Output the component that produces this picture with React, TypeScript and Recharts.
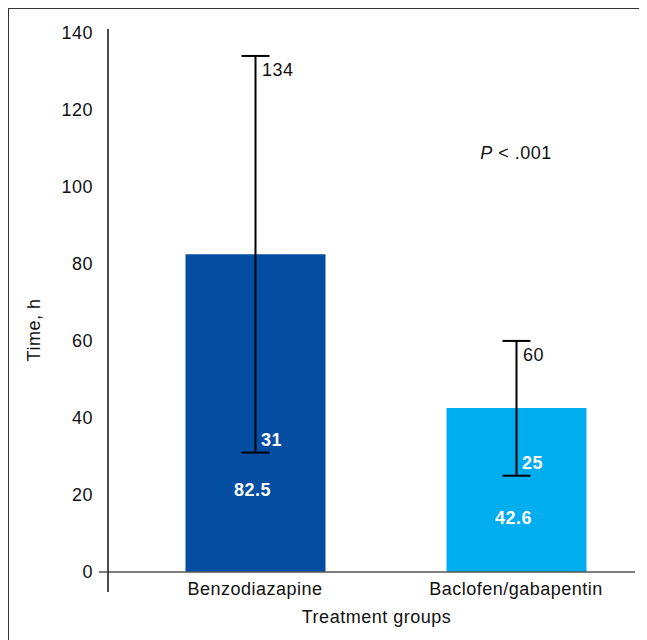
import React from 'react';
import {
  BarChart,
  Bar,
  XAxis,
  YAxis,
  Cell,
  ErrorBar,
  LabelList,
  ReferenceLine,
  ReferenceDot,
} from 'recharts';

const categories = ['Benzodiazapine', 'Baclofen/gabapentin'];
const meanHours = [82.5, 42.6];
const lowerHours = [31, 25];
const upperHours = [134, 60];
const yTicks = [0, 20, 40, 60, 80, 100, 120, 140];
const pValueText = '.001';
const pValueLevel = 109;

const barColors = ['#034EA2', '#00ADEF'];
const FONT = '"Liberation Sans", Arial, Helvetica, sans-serif';
const FS = 18;
const LS = 0.5;
const valueLabelLift = [82, 54];

const data = categories.map((name, i) => ({
  name,
  value: meanHours[i],
  err: [meanHours[i] - lowerHours[i], upperHours[i] - meanHours[i]],
}));

const vbOf = (p: any) => p.viewBox || { x: p.x, y: p.y, width: p.width, height: p.height };

const YTick = (p: any) => {
  const { x, y, payload } = p;
  return (
    <g>
      {payload.value === 0 ? (
        <line x1={x - 9} y1={y} x2={x} y2={y} stroke="#555" strokeWidth={1.5} />
      ) : null}
      <text x={x - 15} y={y + 6.5} textAnchor="end" fontFamily={FONT} fontSize={FS} letterSpacing={LS} fill="#111">
        {payload.value}
      </text>
    </g>
  );
};

const XTick = (p: any) => {
  const { x, y, payload } = p;
  return (
    <text x={x} y={y + 3} textAnchor="middle" fontFamily={FONT} fontSize={FS} letterSpacing={LS} fill="#111">
      {payload.value}
    </text>
  );
};

const ValueLabel = (p: any) => {
  const vb = vbOf(p);
  const idx = p.index ?? 0;
  return (
    <text
      x={vb.x + vb.width / 2 - 3}
      y={vb.y + vb.height - valueLabelLift[idx] + 6.5}
      textAnchor="middle"
      fontFamily={FONT}
      fontSize={FS}
      fontWeight="bold"
      letterSpacing={LS}
      fill="#fff"
    >
      {p.value}
    </text>
  );
};

export default function App() {
  return (
    <div
      style={{
        borderTop: '1px solid #333',
        borderLeft: '1px solid #333',
        width: 638,
        height: 631,
        background: '#fff',
      }}
    >
      <style>{'html,body{overflow:hidden;}'}</style>
      <BarChart
        width={638}
        height={631}
        data={data}
        margin={{ top: 20, right: 12, left: 0, bottom: 18 }}
      >
        <XAxis
          dataKey="name"
          type="category"
          height={30}
          axisLine={false}
          tickLine={false}
          tickSize={0}
          tickMargin={0}
          padding={{ left: 16.5, right: -11.5 }}
          tick={XTick}
          interval={0}
          label={{
            content: (p: any) => {
              const vb = vbOf(p);
              return (
                <text
                  x={vb.x + vb.width / 2 + 5}
                  y={vb.y + 31}
                  textAnchor="middle"
                  fontFamily={FONT}
                  fontSize={FS}
                  letterSpacing={LS}
                  fill="#111"
                >
                  Treatment groups
                </text>
              );
            },
          }}
        />
        <YAxis
          type="number"
          width={99}
          domain={[-5.2, 141]}
          ticks={yTicks}
          interval={0}
          allowDataOverflow
          axisLine={{ stroke: '#111', strokeWidth: 1.5 }}
          tickLine={false}
          tickSize={0}
          tickMargin={0}
          tick={YTick}
          label={{
            content: (p: any) => {
              const vb = vbOf(p);
              const cx = vb.x + 31;
              const cy = vb.y + vb.height / 2 + 19.5;
              return (
                <text
                  x={cx}
                  y={cy}
                  transform={`rotate(-90 ${cx} ${cy})`}
                  textAnchor="middle"
                  fontFamily={FONT}
                  fontSize={FS}
                  letterSpacing={LS}
                  fill="#111"
                >
                  Time, h
                </text>
              );
            },
          }}
        />
        <Bar dataKey="value" barSize={140} isAnimationActive={false}>
          {data.map((d, i) => (
            <Cell key={d.name} fill={barColors[i]} />
          ))}
          <ErrorBar dataKey="err" direction="y" width={14} stroke="#000" strokeWidth={2} isAnimationActive={false} />
          <LabelList dataKey="value" content={ValueLabel} />
        </Bar>
        <ReferenceLine y={0} stroke="#555" strokeWidth={1.5} ifOverflow="visible" />
        {categories.map((c, i) => (
          <ReferenceDot
            key={'hi' + c}
            x={c}
            y={upperHours[i]}
            r={0}
            fill="none"
            stroke="none"
            label={{
              content: (p: any) => {
                const vb = vbOf(p);
                return (
                  <text x={vb.x + 7} y={vb.y + 20} fontFamily={FONT} fontSize={FS} letterSpacing={LS} fill="#111">
                    {upperHours[i]}
                  </text>
                );
              },
            }}
          />
        ))}
        {categories.map((c, i) => (
          <ReferenceDot
            key={'lo' + c}
            x={c}
            y={lowerHours[i]}
            r={0}
            fill="none"
            stroke="none"
            label={{
              content: (p: any) => {
                const vb = vbOf(p);
                return (
                  <text
                    x={vb.x + 6}
                    y={vb.y - 7}
                    fontFamily={FONT}
                    fontSize={FS}
                    fontWeight="bold"
                    letterSpacing={LS}
                    fill="#fff"
                  >
                    {lowerHours[i]}
                  </text>
                );
              },
            }}
          />
        ))}
        <ReferenceDot
          x={categories[1]}
          y={pValueLevel}
          r={0}
          fill="none"
          stroke="none"
          label={{
            content: (p: any) => {
              const vb = vbOf(p);
              return (
                <text x={vb.x} y={vb.y + 6.5} textAnchor="middle" fontFamily={FONT} fontSize={FS} letterSpacing={LS} fill="#111">
                  <tspan fontStyle="italic">P</tspan>
                  {' < ' + pValueText}
                </text>
              );
            },
          }}
        />
      </BarChart>
    </div>
  );
}
